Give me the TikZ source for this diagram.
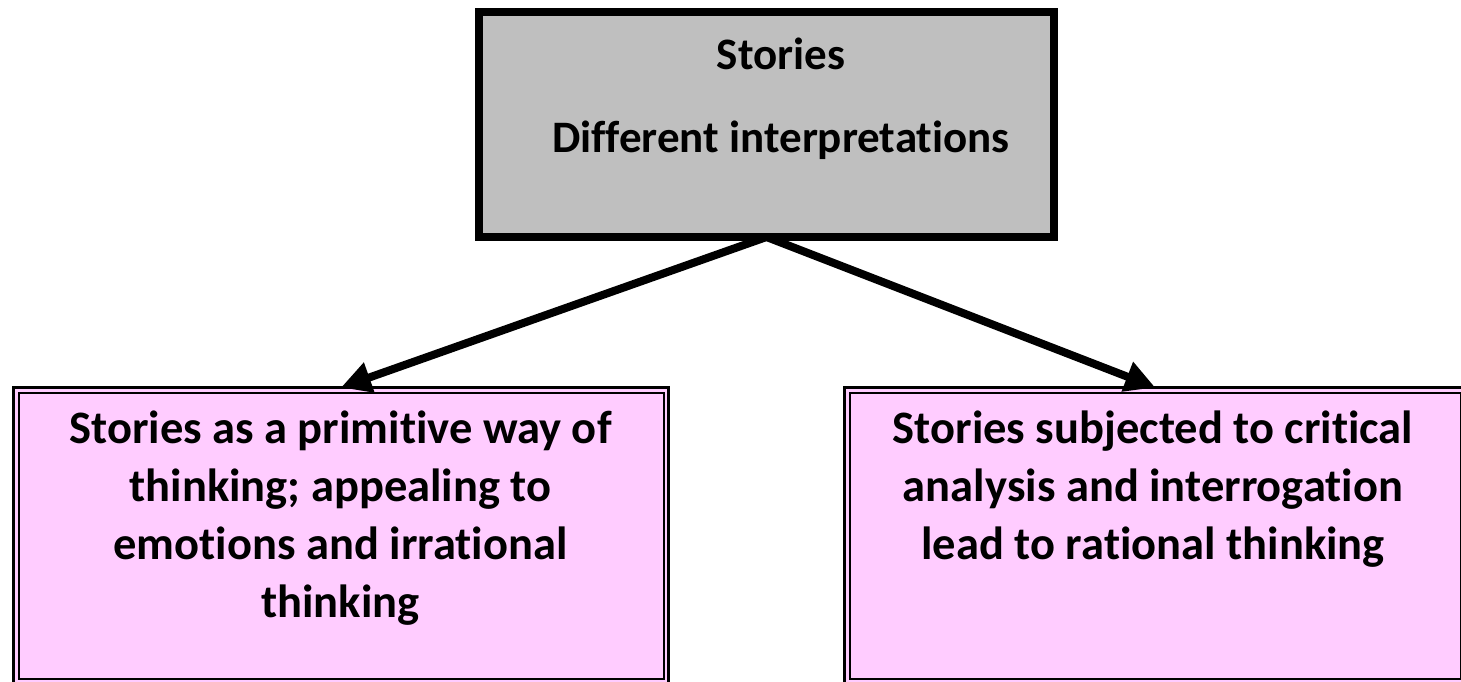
\documentclass[tikz,border=0pt]{standalone}
\usepackage{fontspec}
\setmainfont{Carlito}[Ligatures=NoCommon]
\usetikzlibrary{arrows.meta}
\definecolor{boxpink}{RGB}{255,204,255}
\definecolor{boxgray}{RGB}{191,191,191}
\begin{document}
\begin{tikzpicture}[x=1pt,y=-1pt,
  label text/.style={font=\fontsize{46.5}{58}\selectfont\bfseries, align=center, inner sep=0pt, anchor=base},
  head text/.style={label text, font=\fontsize{45}{58}\selectfont\bfseries},
  head box/.style={rectangle, draw=black, line width=8pt, fill=boxgray, inner sep=0pt, outer sep=0pt,
    minimum width=575pt, minimum height=225pt},
  idea box/.style={rectangle, draw=black, line width=3pt, fill=boxpink, inner sep=0pt, outer sep=0pt,
    anchor=north west, minimum height=296pt},
  inner rule/.style={draw=black, line width=2pt},
  link/.style={line width=8pt, -{Triangle[length=30pt,width=30pt]}}]
\useasboundingbox (0,0) rectangle (1461,682);
\begin{scope}
\clip (0,0) rectangle (1461,682);
% heading box
\node[head box] (top) at (766.5,124.5) {};
\node[head text] (topA) at (781,70) {Stories};
\node[head text] (topB) at (781,152) {Different interpretations};
% the two interpretations, each with a double frame
\node[idea box, minimum width=655pt] (left) at (13.5,387.5) {};
\draw[inner rule] ([shift={(5,5)}]left.north west) rectangle ([shift={(-5,-5)}]left.south east);
\node[idea box, minimum width=621.5pt] (right) at (844.5,387.5) {};
\draw[inner rule] ([shift={(5,5)}]right.north west) rectangle ([shift={(-5,-5)}]right.south east);
% multi-line texts sit on the baseline of their last line
\node[label text] (leftText) at (340.5,617) {Stories as a primitive way of\\thinking; appealing to\\emotions and irrational\\thinking};
\node[label text] (rightText) at (1153,559) {Stories subjected to critical\\analysis and interrogation\\lead to rational thinking};
% connectors
\draw[link] (top.south) -- (left.north);
\draw[link] (top.south) -- (right.north);
\end{scope}
\end{tikzpicture}
\end{document}
